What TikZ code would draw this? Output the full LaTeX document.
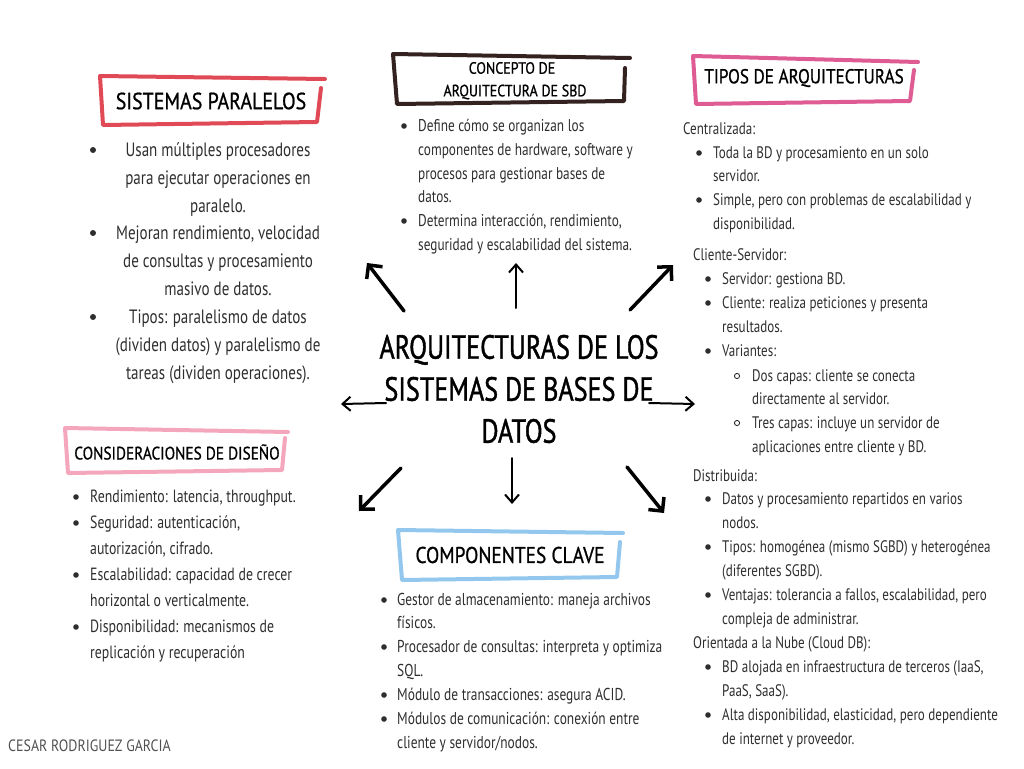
\documentclass[tikz,border=0pt]{standalone}
\usepackage{fontspec}
\setmainfont{PT Sans}[FakeStretch=0.78]
\newfontfamily\headfont{PT Sans}[FakeStretch=0.85,FakeBold=0.8]
\newfontfamily\titlefont{PT Sans}[FakeStretch=0.78,FakeBold=1.2]
\newfontfamily\signfont{PT Sans}[FakeStretch=0.85]
\usetikzlibrary{arrows.meta}
\definecolor{ink}{HTML}{2E2E2E}
\definecolor{redbox}{HTML}{E04A56}
\definecolor{darkbox}{HTML}{33221F}
\definecolor{pinkbox}{HTML}{DE5B93}
\definecolor{rosebox}{HTML}{F4A6BD}
\definecolor{bluebox}{HTML}{93C7EE}
\definecolor{signgray}{HTML}{505050}
\begin{document}
\begin{tikzpicture}[x=1pt,y=-1pt,
  frame/.style={line width=4pt,line cap=round,line join=round},
  head/.style={text=black,inner sep=0pt},
  body/.style={text=ink,inner sep=0pt,yshift=-3pt,font=\fontsize{16.7}{19}\selectfont},
  bodyL/.style={body,anchor=mid west},
  bodyC/.style={text=ink,inner sep=0pt,yshift=-3.5pt,anchor=mid,font=\fontsize{19.3}{22}\selectfont},
  dot/.style={fill=ink},
  ring/.style={draw=ink,line width=0.9pt},
  bigarrow/.style={line width=3.5pt,line cap=round,-{Straight Barb[length=10pt,width=20pt,line width=3.5pt]}},
  thinarrow/.style={line width=2pt,line cap=round,-{Straight Barb[length=8pt,width=14pt,line width=2pt]}}]
\useasboundingbox (0,0) rectangle (1024,768);

% ---------- central title ----------
\node[head,align=center,font=\titlefont\fontsize{33.5}{42}\selectfont] (main) at (519,389)
  {ARQUITECTURAS DE LOS\\SISTEMAS DE BASES DE\\DATOS};

% ---------- arrows ----------
\coordinate (nwT) at (404,311); \coordinate (nwH) at (367,263);
\coordinate (nT)  at (516,308); \coordinate (nH)  at (516,263);
\coordinate (neT) at (630,310); \coordinate (neH) at (673,265);
\coordinate (wT)  at (386,403); \coordinate (wH)  at (341,404);
\coordinate (eT)  at (649,403); \coordinate (eH)  at (695,404);
\coordinate (swT) at (401,468); \coordinate (swH) at (359,511);
\coordinate (sT)  at (512,458); \coordinate (sH)  at (512,504);
\coordinate (seT) at (627,467); \coordinate (seH) at (664,513);
\draw[bigarrow] (nwT) -- (nwH);
\draw[thinarrow] (nT) -- (nH);
\draw[bigarrow] (neT) -- (neH);
\draw[thinarrow] (wT) -- (wH);
\draw[thinarrow] (eT) -- (eH);
\draw[bigarrow] (swT) -- (swH);
\draw[thinarrow] (sT) -- (sH);
\draw[bigarrow] (seT) -- (seH);

% ---------- SISTEMAS PARALELOS ----------
\draw[frame,draw=redbox] (325,79) -- (100,76) -- (103,125) -- (317,122) -- (321,88);
\node[head,font=\headfont\fontsize{23.4}{26}\selectfont] (hSP) at (211,101) {SISTEMAS PARALELOS};
\foreach \yy/\s [count=\i] in {150/Usan múltiples procesadores,
    178/para ejecutar operaciones en,
    206/paralelo.,
    233/{Mejoran rendimiento, velocidad},
    261/de consultas y procesamiento,
    289/masivo de datos.,
    317/Tipos: paralelismo de datos,
    345/(dividen datos) y paralelismo de,
    373/tareas (dividen operaciones).}
  \node[bodyC] (sp\i) at (218,\yy) {\s};
\foreach \yy in {150,233,317} \fill[dot] (93,\yy) circle (3pt);

% ---------- CONCEPTO DE ARQUITECTURA DE SBD ----------
\draw[frame,draw=darkbox] (630,58) -- (393,54) -- (397,104) -- (624,101) -- (625,68);
\node[head,font=\headfont\fontsize{16.4}{19}\selectfont] (hC1) at (512,68) {CONCEPTO DE};
\node[head,font=\headfont\fontsize{16.4}{19}\selectfont] (hC2) at (515,92) {ARQUITECTURA DE SBD};
\foreach \yy/\s [count=\i] in {126/Define cómo se organizan los,
    150/{componentes de hardware, software y},
    174/procesos para gestionar bases de,
    197/datos.,
    221/{Determina interacción, rendimiento,},
    245/seguridad y escalabilidad del sistema.}
  \node[bodyL,font=\fontsize{17}{19}\selectfont] (co\i) at (418,\yy) {\s};
\foreach \yy in {126,221} \fill[dot] (404,\yy) circle (2.8pt);

% ---------- TIPOS DE ARQUITECTURAS ----------
\draw[frame,draw=pinkbox] (918,62) -- (693,56) -- (696,104) -- (910,101) -- (914,70);
\node[head,font=\headfont\fontsize{20.2}{23}\selectfont] (hT) at (804,78) {TIPOS DE ARQUITECTURAS};
\node[bodyL] (tCen) at (683,129) {Centralizada:};
\node[bodyL] (tCS)  at (693,255) {Cliente-Servidor:};
\node[bodyL] (tDis) at (693,476) {Distribuida:};
\node[bodyL] (tNub) at (693,643) {Orientada a la Nube (Cloud DB):};
\foreach \yy/\s [count=\i] in {153/Toda la BD y procesamiento en un solo,
    176/servidor.,
    200/{Simple, pero con problemas de escalabilidad y},
    224/disponibilidad.}
  \node[bodyL] (ta\i) at (713,\yy) {\s};
\foreach \yy in {153,200} \fill[dot] (699,\yy) circle (2.8pt);
\foreach \yy/\s [count=\i] in {279/Servidor: gestiona BD.,
    303/Cliente: realiza peticiones y presenta,
    327/resultados.,
    351/Variantes:,
    499/Datos y procesamiento repartidos en varios,
    523/nodos.,
    547/Tipos: homogénea (mismo SGBD) y heterogénea,
    571/(diferentes SGBD).,
    595/{Ventajas: tolerancia a fallos, escalabilidad, pero},
    619/compleja de administrar.,
    667/{BD alojada en infraestructura de terceros (IaaS,},
    691/{PaaS, SaaS).},
    715/{Alta disponibilidad, elasticidad, pero dependiente},
    739/de internet y proveedor.}
  \node[bodyL] (tb\i) at (722,\yy) {\s};
\foreach \yy in {279,303,351,499,547,595,667,715} \fill[dot] (708,\yy) circle (2.8pt);
\foreach \yy/\s [count=\i] in {376/Dos capas: cliente se conecta,
    399/directamente al servidor.,
    423/Tres capas: incluye un servidor de,
    447/aplicaciones entre cliente y BD.}
  \node[bodyL] (tc\i) at (752,\yy) {\s};
\foreach \yy in {376,423} \draw[ring] (737,\yy) circle (2.6pt);

% ---------- CONSIDERACIONES DE DISEÑO ----------
\draw[frame,draw=rosebox] (288,432) -- (65,428) -- (68,473) -- (282,470) -- (285,438);
\node[head,font=\headfont\fontsize{18}{20}\selectfont] (hD) at (177,452) {CONSIDERACIONES DE DISEÑO};
\foreach \yy/\s [count=\i] in {497/{Rendimiento: latencia, throughput.},
    523/{Seguridad: autenticación,},
    549/{autorización, cifrado.},
    575/Escalabilidad: capacidad de crecer,
    601/horizontal o verticalmente.,
    627/Disponibilidad: mecanismos de,
    653/replicación y recuperación}
  \node[bodyL,font=\fontsize{17.7}{19}\selectfont] (cd\i) at (90,\yy) {\s};
\foreach \yy in {497,523,575,627} \fill[dot] (76,\yy) circle (2.8pt);

% ---------- COMPONENTES CLAVE ----------
\draw[frame,draw=bluebox] (623,533) -- (398,530) -- (402,580) -- (617,577) -- (620,542);
\node[head,font=\headfont\fontsize{22.8}{25}\selectfont] (hK) at (510,555) {COMPONENTES CLAVE};
\foreach \yy/\s [count=\i] in {600/Gestor de almacenamiento: maneja archivos,
    623/físicos.,
    647/Procesador de consultas: interpreta y optimiza,
    671/SQL.,
    695/Módulo de transacciones: asegura ACID.,
    719/Módulos de comunicación: conexión entre,
    743/{cliente y servidor/nodos.}}
  \node[bodyL,font=\fontsize{17.2}{19}\selectfont] (kc\i) at (397,\yy) {\s};
\foreach \yy in {600,647,695,719} \fill[dot] (384,\yy) circle (2.8pt);

% ---------- signature ----------
\node[anchor=mid west,inner sep=0pt,text=signgray,font=\signfont\fontsize{16.4}{18}\selectfont] (sig) at (8,749) {CESAR RODRIGUEZ GARCIA};
\end{tikzpicture}
\end{document}
